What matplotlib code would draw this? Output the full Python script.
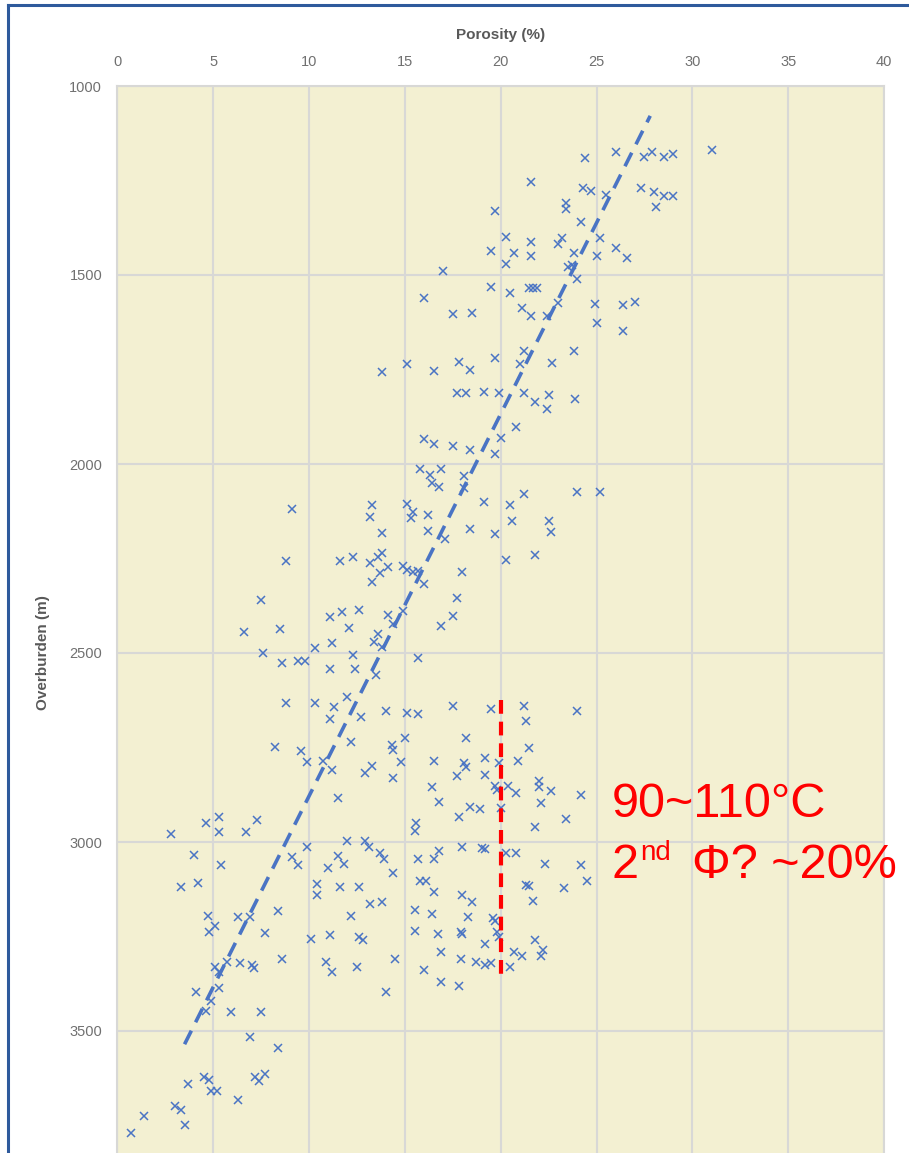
import matplotlib
matplotlib.use("Agg")
import matplotlib.pyplot as plt
from matplotlib.lines import Line2D

# ---- data -------------------------------------------------------------
porosity = [
    24.4, 26.0, 27.5, 27.9, 28.5, 29.0, 31.0, 21.6, 24.3, 24.7, 25.5, 27.3, 28.0, 28.5, 29.0, 28.1,
    23.4, 23.4, 19.7, 24.2, 20.3, 21.6, 23.0, 23.2, 25.2, 19.5, 20.7, 23.8, 26.0, 26.6, 21.6, 25.0,
    20.3, 23.5, 23.7, 17.0, 24.0, 19.5, 20.5, 21.5, 21.7, 21.9, 16.0, 23.0, 24.9, 26.4, 27.0, 17.5,
    18.5, 21.1, 21.6, 22.4, 25.0, 26.4, 21.2, 23.8, 19.7,
    13.8, 15.1, 16.5, 17.8, 18.4, 21.0, 22.7, 17.7, 18.2, 19.1, 19.9, 21.2, 21.8, 22.5, 22.4, 23.9,
    20.8, 20.0, 16.0, 16.5, 17.5, 18.4, 19.7, 15.8, 16.3, 16.9, 18.1, 16.4, 16.8, 18.1, 21.2, 24.0,
    25.2, 15.1, 15.4, 15.3, 16.2, 19.1, 20.5, 20.6, 22.5, 22.6, 13.8, 16.2, 17.1, 18.4, 19.7, 13.8,
    14.1, 14.9, 15.1, 15.4, 15.7, 16.0, 18.0, 20.3, 21.8, 17.7,
    9.1, 13.3, 13.2, 8.8, 11.6, 12.3, 13.2, 13.6, 13.3, 13.7, 7.5,
    11.1, 11.7, 12.6, 14.1, 14.9, 14.4, 12.1, 17.5, 16.9, 6.6, 8.5, 13.6, 13.4, 13.8, 11.2, 10.3,
    7.6, 8.6, 9.4, 9.8, 12.3, 11.1, 12.4, 13.5, 15.7, 12.0, 8.8, 10.3, 11.3, 11.1, 12.7, 14.0,
    15.1, 15.7, 17.5, 19.5, 8.2, 9.6, 9.9, 12.2, 10.7, 11.2, 13.3, 12.9, 14.3, 14.4, 15.0, 14.8,
    14.4, 18.2, 16.5, 18.1, 18.2, 19.2, 19.9, 17.7, 19.2,
    21.2, 21.3, 24.0, 21.5, 20.9, 20.4, 20.8, 22.0, 22.0, 22.6, 24.2, 22.1, 20.0, 21.8, 23.4, 20.3,
    20.8, 22.3, 24.2, 24.5, 21.3, 21.5, 23.3, 21.7,
    2.8, 4.6, 5.3, 5.3, 6.7, 7.3, 4.0, 5.4, 3.3, 4.2, 9.1, 9.4, 4.7, 5.1, 4.8, 6.3,
    6.9, 8.4, 7.7, 5.1, 5.7, 6.4, 7.0, 7.1, 8.6, 4.1, 5.3, 4.9, 4.6, 5.9, 7.5, 5.3,
    11.5, 16.4, 16.8, 19.7, 19.8, 17.8, 18.4, 18.9, 15.6, 15.5, 9.9, 12.0, 12.9, 13.1, 13.7, 13.9,
    11.5, 11.8, 11.0, 14.4, 15.7, 16.5, 16.8, 18.0, 19.0, 19.2, 10.4, 10.4, 11.6, 12.6, 13.2, 13.8,
    12.2, 15.8, 16.1, 16.5, 18.0, 18.5, 15.5, 16.4, 18.3, 19.6, 19.7, 10.1, 11.1, 12.6, 12.8, 15.5,
    16.7, 17.9, 18.0, 19.8, 19.2, 19.9, 10.9, 11.2, 12.5, 14.5, 16.9, 17.9, 18.7, 19.2, 19.5, 16.0,
    16.9, 17.8, 14.0, 20.5, 20.7, 21.1, 21.8, 22.2, 22.1,
    6.9, 8.4, 3.7, 4.5, 4.8, 4.9, 5.2, 6.3, 7.2, 7.4, 7.7, 3.0, 3.3, 1.4, 3.5, 0.7,
]

overburden = [
    1191, 1174, 1187, 1174, 1187, 1181, 1169, 1253, 1269, 1278, 1288, 1269, 1280, 1291, 1291, 1321,
    1310, 1326, 1331, 1359, 1399, 1414, 1419, 1401, 1401, 1436, 1441, 1441, 1429, 1454, 1451, 1450,
    1472, 1480, 1474, 1489, 1510, 1533, 1548, 1535, 1535, 1535, 1562, 1573, 1577, 1579, 1571, 1604,
    1600, 1588, 1608, 1608, 1628, 1648, 1701, 1701, 1719,
    1756, 1735, 1754, 1729, 1750, 1735, 1734, 1811, 1813, 1810, 1813, 1813, 1835, 1818, 1855, 1828,
    1901, 1932, 1934, 1948, 1952, 1963, 1974, 2012, 2029, 2012, 2032, 2051, 2062, 2064, 2079, 2075,
    2075, 2107, 2126, 2144, 2135, 2100, 2108, 2151, 2150, 2179, 2182, 2177, 2198, 2173, 2186, 2235,
    2272, 2270, 2280, 2285, 2283, 2318, 2285, 2254, 2241, 2354,
    2120, 2108, 2141, 2257, 2257, 2245, 2263, 2245, 2311, 2289, 2360,
    2406, 2392, 2385, 2400, 2388, 2422, 2435, 2401, 2429, 2445, 2437, 2450, 2470, 2483, 2474, 2488,
    2501, 2527, 2521, 2521, 2505, 2542, 2542, 2558, 2512, 2616, 2631, 2631, 2644, 2675, 2670, 2653,
    2658, 2662, 2640, 2649, 2748, 2758, 2789, 2736, 2786, 2810, 2798, 2818, 2743, 2757, 2724, 2789,
    2832, 2724, 2785, 2792, 2801, 2777, 2792, 2825, 2823,
    2640, 2679, 2653, 2752, 2786, 2853, 2871, 2839, 2854, 2864, 2876, 2898, 2910, 2961, 2939, 3028,
    3028, 3059, 3061, 3103, 3114, 3116, 3123, 3155,
    2979, 2951, 2935, 2973, 2973, 2942, 3034, 3061, 3118, 3108, 3041, 3061, 3195, 3221, 3237, 3198,
    3199, 3183, 3240, 3332, 3317, 3321, 3325, 3334, 3310, 3396, 3385, 3421, 3446, 3451, 3451, 3343,
    2884, 2855, 2893, 2852, 2862, 2935, 2908, 2914, 2951, 2970, 3012, 2997, 2997, 3012, 3028, 3045,
    3037, 3058, 3070, 3083, 3046, 3046, 3024, 3012, 3017, 3019, 3111, 3140, 3118, 3120, 3164, 3158,
    3196, 3102, 3102, 3133, 3140, 3158, 3180, 3190, 3198, 3202, 3208, 3257, 3246, 3250, 3259, 3235,
    3243, 3237, 3243, 3237, 3270, 3251, 3317, 3343, 3330, 3310, 3290, 3310, 3317, 3325, 3321, 3339,
    3370, 3381, 3396, 3332, 3290, 3302, 3259, 3286, 3302,
    3515, 3546, 3641, 3623, 3630, 3660, 3660, 3683, 3623, 3632, 3614, 3698, 3709, 3724, 3749, 3771,
]

# compaction trend (porosity %, overburden m)
trend_porosity = [3.5, 27.8]
trend_overburden = [3535, 1079]

# secondary-porosity marker at ~20 %
marker_porosity = [20.0, 20.0]
marker_overburden = [2625, 3355]

x_ticks = [0, 5, 10, 15, 20, 25, 30, 35, 40]
y_ticks = [1000, 1500, 2000, 2500, 3000, 3500]

# ---- figure -----------------------------------------------------------
W, H = 909, 1153
fig = plt.figure(figsize=(W / 100, H / 100), dpi=100)
fig.patch.set_facecolor("white")

# axes spans y = 1000 (top) .. 4000 (below the bottom edge of the canvas)
left_px, right_px, top_px, bottom_px = 117.5, 884.0, 86.0, 1220.0
ax = fig.add_axes([left_px / W, 1 - bottom_px / H,
                   (right_px - left_px) / W, (bottom_px - top_px) / H])
ax.set_facecolor("#f3f0d2")

grid_c = "#d8d8d6"
ax.set_xlim(0, 40)
ax.set_ylim(4000, 1000)
ax.set_xticks(x_ticks)
ax.set_yticks(y_ticks)
ax.grid(True, color=grid_c, linewidth=1.5)
ax.set_axisbelow(True)
for s in ax.spines.values():
    s.set_color(grid_c)
    s.set_linewidth(1.5)

ax.xaxis.tick_top()
ax.xaxis.set_label_position("top")
tick_font = dict(family="Liberation Sans", size=10.5, color="#707070")
ax.tick_params(axis="both", length=0)
ax.tick_params(axis="x", pad=12)
ax.tick_params(axis="y", pad=11)
for lab in ax.get_xticklabels() + ax.get_yticklabels():
    lab.set_fontfamily(tick_font["family"])
    lab.set_fontsize(tick_font["size"])
    lab.set_color(tick_font["color"])

ax.set_xlabel("Porosity (%)", family="Liberation Sans", fontsize=11,
              fontweight="bold", color="#595959", labelpad=12)
ax.set_ylabel("Overburden (m)", family="Liberation Sans", fontsize=11,
              fontweight="bold", color="#595959", labelpad=14)

blue = "#4a74c4"
ax.plot(porosity, overburden, linestyle="none", marker="x", markersize=6,
        markeredgewidth=1.1, color=blue, zorder=3)

ax.plot(trend_porosity, trend_overburden, color=blue, linewidth=2.6,
        dashes=(4.2, 2.6), solid_capstyle="butt", zorder=4)

ax.plot(marker_porosity, marker_overburden, color="#ff0000", linewidth=3.0,
        dashes=(3.3, 1.9), zorder=5)

red_font = dict(family="Liberation Sans", color="#ff0000")
ax.text(25.78, 2934, "90~110°C", fontsize=35, va="baseline", ha="left", **red_font)
ax.text(25.78, 3095, "2", fontsize=35, va="baseline", ha="left", **red_font)
ax.text(27.3, 3048, "nd", fontsize=20, va="baseline", ha="left", **red_font)
ax.text(30.0, 3095, "Φ? ~20%", fontsize=35, va="baseline", ha="left", **red_font)

# outer frame
frame_c = "#2e5a9c"
fig.add_artist(Line2D([8 / W, 1.0], [1 - 5 / H, 1 - 5 / H], transform=fig.transFigure,
                      color=frame_c, linewidth=2.2))
fig.add_artist(Line2D([8 / W, 8 / W], [1 - 5 / H, 0.0], transform=fig.transFigure,
                      color=frame_c, linewidth=2.2))

fig.savefig("out.png", dpi=100)
